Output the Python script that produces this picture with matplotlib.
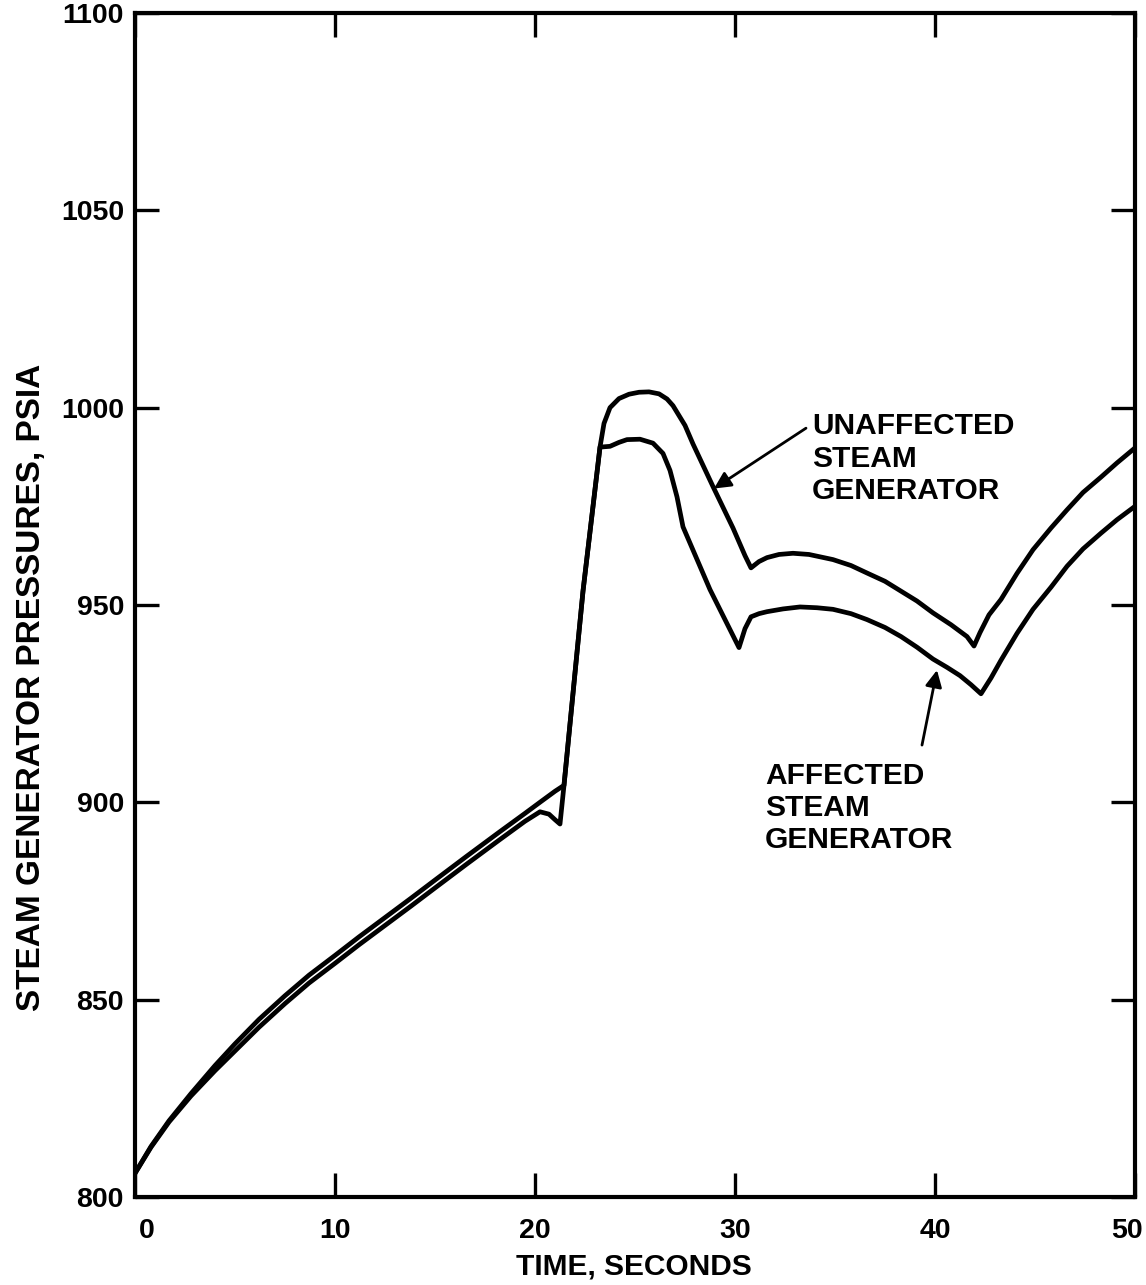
import matplotlib
matplotlib.use("Agg")
import matplotlib.pyplot as plt
from matplotlib.transforms import ScaledTranslation

plt.rcParams['font.family'] = ['Liberation Sans', 'DejaVu Sans']

# ---- data ----
t_unaffected = [0, 0.8, 1.7, 2.8, 4, 5, 6.2, 7.5, 8.7, 10, 11.2, 12.5, 13.8, 15,
                16.6, 18.2, 19.5, 20.3, 21.0, 21.45, 22.4, 23.25, 23.45, 23.75,
                24.2, 24.7, 25.2, 25.7, 26.2, 26.6, 26.9, 27.2, 27.5, 27.9, 28.9,
                29.9, 30.5, 30.8, 31.2, 31.6, 32.2, 32.9, 33.7, 34.9, 35.8, 36.6,
                37.5, 38.3, 39.1, 39.9, 40.8, 41.6, 41.95, 42.25, 42.7, 43.3, 44.1,
                44.9, 45.8, 46.6, 47.4, 48.3, 49.1, 50]
p_unaffected = [806, 812.8, 819.3, 826.2, 833.3, 838.8, 845, 851, 856.2, 861.2, 865.9,
                870.8, 875.7, 880.3, 886.4, 892.4, 897.2, 900.2, 902.8, 904.3, 953.5,
                990, 996, 1000, 1002.3, 1003.4, 1003.9, 1004, 1003.5, 1002.2, 1000.5,
                998, 995.5, 990.8, 980, 969.5, 962.5, 959.4, 961, 962, 962.8, 963.1,
                962.8, 961.5, 960, 958.1, 956, 953.5, 951, 948, 945, 942, 939.6,
                943, 947.5, 951.4, 958, 964, 969.5, 974.1, 978.5, 982.4, 986, 989.8]

t_affected = [0, 0.8, 1.7, 2.8, 4, 5, 6.2, 7.5, 8.7, 10, 11.2, 12.5, 13.8, 15, 16.6,
              18.2, 19.5, 20.25, 20.7, 21.0, 21.25, 21.45, 22.4, 23.25, 23.75, 24.2,
              24.6, 25.25, 25.9, 26.4, 26.75, 27.1, 27.4, 28.75, 30.2, 30.5, 30.8,
              31.2, 31.6, 32.4, 33.25, 34.1, 34.9, 35.8, 36.6, 37.5, 38.3, 39.1, 39.9,
              40.6, 41.25, 41.8, 42.3, 42.8, 43.3, 44.1, 44.9, 45.8, 46.6, 47.4, 48.3,
              49.1, 50]
p_affected = [806, 812.6, 819, 825.6, 832, 837, 843, 849, 854.2, 859.2, 863.9, 868.8,
              873.7, 878.3, 884.4, 890.4, 895.2, 897.6, 897, 895.6, 894.5, 904.3, 953.5,
              990, 990.2, 991.2, 991.9, 992, 991, 988.4, 984.1, 977.4, 969.8, 953.9,
              939.2, 944, 947, 947.8, 948.3, 949, 949.5, 949.3, 948.9, 947.8, 946.3,
              944.3, 942, 939.3, 936.3, 934.2, 932.1, 929.8, 927.5, 931.5, 936, 942.8,
              948.9, 954.5, 959.8, 964.2, 968.2, 971.6, 975]

x_ticks = [0, 10, 20, 30, 40, 50]
y_ticks = [800, 850, 900, 950, 1000, 1050, 1100]

label_unaffected = "UNAFFECTED\nSTEAM\nGENERATOR"
label_affected = "AFFECTED\nSTEAM\nGENERATOR"

# ---- figure ----
fig = plt.figure(figsize=(11.46, 12.85), dpi=100)
ax = fig.add_axes([0.1178, 0.0685, 0.8726, 0.9214])

lw = 3.4
ax.plot(t_unaffected, p_unaffected, color='black', lw=lw, solid_joinstyle='round',
        solid_capstyle='round')
ax.plot(t_affected, p_affected, color='black', lw=lw, solid_joinstyle='round',
        solid_capstyle='round')

ax.set_xlim(0, 50)
ax.set_ylim(800, 1100)
ax.set_xticks(x_ticks)
ax.set_yticks(y_ticks)
ax.set_xticklabels([str(v) for v in x_ticks])
ax.set_yticklabels([str(v) for v in y_ticks])

for s in ax.spines.values():
    s.set_linewidth(3.0)

ax.tick_params(axis='both', which='major', direction='in', length=17, width=2.4,
               top=True, right=True, labelsize=20.5)
ax.tick_params(axis='x', pad=15)
ax.tick_params(axis='y', pad=8)
for lab in ax.get_xticklabels() + ax.get_yticklabels():
    lab.set_fontweight('bold')

# nudge first and last x tick labels as in the reference
xl = ax.get_xticklabels()
xl[0].set_transform(xl[0].get_transform() + ScaledTranslation(12 / 100, 0, fig.dpi_scale_trans))
xl[-1].set_transform(xl[-1].get_transform() + ScaledTranslation(-8 / 100, 0, fig.dpi_scale_trans))

ax.set_xlabel("TIME, SECONDS", fontsize=21.5, fontweight='bold')
ax.set_ylabel("STEAM GENERATOR PRESSURES, PSIA", fontsize=24, fontweight='bold')
ax.xaxis.set_label_coords(0.499, -0.047)
ax.yaxis.set_label_coords(-0.088, 0.43)

# annotations
ax.text(33.85, 998.8, label_unaffected, fontsize=21.5, fontweight='bold',
        ha='left', va='top', linespacing=1.2)
ax.annotate("", xy=(28.95, 979.5), xytext=(33.55, 994.8),
            arrowprops=dict(arrowstyle='-|>', color='black', lw=2.0,
                            mutation_scale=25, shrinkA=0, shrinkB=0))

ax.text(31.5, 910.3, label_affected, fontsize=21.5, fontweight='bold',
        ha='left', va='top', linespacing=1.2)
ax.annotate("", xy=(40.1, 933.5), xytext=(39.35, 914.5),
            arrowprops=dict(arrowstyle='-|>', color='black', lw=2.0,
                            mutation_scale=25, shrinkA=0, shrinkB=0))

fig.savefig("out.png", dpi=100, facecolor='white')
